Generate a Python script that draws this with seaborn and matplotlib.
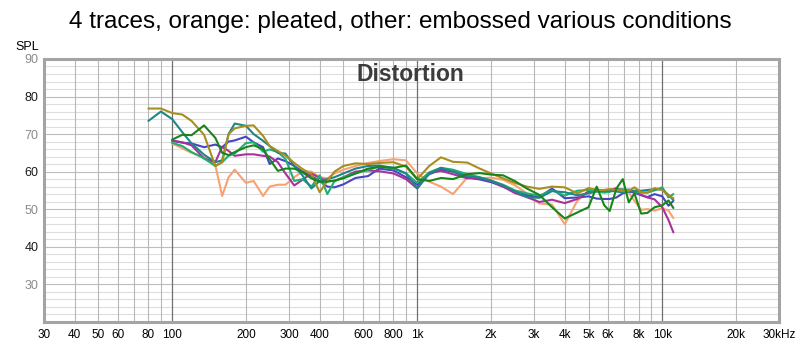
import numpy as np
import pandas as pd
import matplotlib
matplotlib.use("Agg")
import matplotlib.pyplot as plt
import seaborn as sns

sns.set_theme(style="white")
plt.rcParams['font.family'] = ['Liberation Sans', 'DejaVu Sans']

# ---------------- data ----------------
freq = [80, 90, 100, 110, 120, 135, 150, 160, 170, 180, 200, 215, 235, 250, 270,
        290, 315, 340, 370, 400, 430, 460, 500, 560, 630, 700, 800, 900, 1000, 1120,
        1250, 1400, 1600, 1800, 2000, 2240, 2500, 2800, 3150, 3550, 4000, 4500, 5000,
        5400, 5800, 6100, 6500, 6900, 7300, 7700, 8200, 8700, 9300, 10000, 10600, 11100]

nan = np.nan
olive = [76.8, 76.8, 75.6, 75.2, 73.5, 69.8, 61.5, 62.5, 70.0, 71.5,
         72.2, 72.3, 69.5, 66.8, 65.5, 64.3, 62.3, 60.7, 59.3, 54.5,
         57.5, 60.0, 61.5, 62.2, 62.0, 62.3, 62.5, 61.3, 58.0, 61.5,
         63.8, 62.6, 62.4, 60.8, 59.5, 58.2, 57.0, 56.0, 55.4, 56.0,
         55.8, 54.2, 55.6, 55.1, 55.1, 55.3, 55.1, 54.9, 54.9, 55.8,
         54.5, 54.4, 55.6, 55.1, 53.6, 52.9]
teal = [73.5, 76.0, 74.0, 70.5, 67.5, 64.5, 62.5, 63.0, 70.0, 72.8,
        72.2, 70.0, 68.2, 66.8, 65.0, 64.8, 61.5, 59.0, 55.5, 57.5,
        58.0, 58.5, 59.5, 60.8, 61.5, 61.6, 61.0, 59.5, 55.5, 59.5,
        61.0, 60.0, 58.8, 58.4, 57.6, 56.3, 54.8, 53.2, 53.0, 54.8,
        54.5, 53.7, 54.2, 54.7, 54.9, 54.9, 54.7, 54.4, 54.7, 54.9,
        54.9, 55.1, 55.3, 55.2, 53.8, 52.4]
darkgreen = [nan, nan, 68.5, 69.8, 69.7, 72.3, 69.0, 65.0, 64.4, 65.2,
             66.5, 67.0, 66.0, 63.3, 60.2, 60.8, 60.8, 59.8, 58.2, 57.3,
             57.3, 57.6, 58.2, 59.5, 60.8, 61.3, 61.0, 61.6, 58.0, 57.5,
             58.3, 58.0, 59.3, 59.6, 59.2, 59.0, 57.5, 55.5, 53.8, 50.5,
             47.5, 49.1, 50.5, 56.0, 51.0, 49.5, 55.5, 58.0, 51.8, 54.2,
             48.8, 49.0, 50.5, 51.0, 52.3, 50.3]
blue = [nan, nan, 68.2, 67.7, 67.5, 66.5, 67.2, 66.5, 68.0, 68.3,
        69.3, 67.8, 66.5, 62.0, 63.5, 62.8, 61.5, 60.0, 58.8, 57.5,
        56.0, 55.8, 56.6, 58.3, 58.8, 60.8, 60.3, 58.5, 56.5, 59.3,
        60.5, 60.0, 58.4, 57.9, 57.2, 56.0, 54.8, 53.7, 53.2, 55.5,
        52.9, 53.1, 53.4, 52.8, 52.7, 52.7, 53.1, 54.2, 54.7, 54.4,
        53.7, 53.2, 54.0, 53.4, 50.9, 52.2]
magenta = [nan, nan, 68.3, 67.8, 67.0, 63.5, 62.5, 66.6, 65.5, 64.2,
           64.6, 64.6, 64.2, 64.0, 62.5, 59.5, 56.3, 57.8, 59.5, 58.3,
           57.5, 57.5, 58.5, 60.0, 60.3, 60.1, 59.5, 58.0, 55.5, 59.7,
           60.2, 59.3, 58.2, 58.3, 57.5, 56.0, 54.3, 53.2, 51.9, 52.5,
           51.6, 52.7, 54.7, 55.3, 54.6, 54.9, 55.6, 54.9, 55.2, 54.7,
           53.8, 53.1, 52.6, 50.5, 47.1, 43.8]
seagreen = [nan, nan, 67.7, 66.8, 65.2, 63.5, 61.5, 62.5, 64.2, 64.8,
            67.6, 67.8, 65.3, 65.9, 65.2, 63.4, 57.5, 58.0, 56.0, 59.0,
            54.0, 57.5, 58.5, 59.5, 60.5, 61.3, 60.8, 59.5, 57.0, 59.8,
            61.0, 60.5, 59.3, 58.5, 57.6, 56.5, 55.0, 54.2, 53.6, 55.0,
            53.6, 54.9, 55.1, 54.7, 54.4, 54.6, 55.1, 55.3, 55.1, 54.7,
            54.4, 54.4, 55.0, 55.8, 53.1, 54.0]
orange = [nan, nan, 67.5, 66.2, 65.0, 63.8, 61.8, 53.5, 58.5, 60.5,
          57.0, 57.5, 53.5, 56.0, 56.5, 56.5, 58.5, 60.0, 60.0, 58.5,
          58.2, 59.5, 60.5, 61.5, 62.3, 62.8, 63.3, 63.0, 59.5, 57.3,
          56.0, 54.0, 58.4, 58.2, 58.4, 57.8, 56.4, 54.2, 51.5, 51.2,
          46.0, 52.2, 54.7, 54.9, 55.1, 55.3, 55.3, 55.3, 54.4, 52.2,
          49.8, 50.0, 49.6, 50.2, 49.6, 47.6]

traces = {
    "pleated": orange,
    "blue": blue,
    "magenta": magenta,
    "seagreen": seagreen,
    "teal": teal,
    "olive": olive,
    "darkgreen": darkgreen,
}
palette = {
    "pleated": "#f7a274",
    "blue": "#4646c2",
    "magenta": "#a8329a",
    "seagreen": "#1fb072",
    "teal": "#1f8686",
    "olive": "#a88e1e",
    "darkgreen": "#17861a",
}

xtick_vals = [30, 40, 50, 60, 80, 100, 200, 300, 400, 600, 800, 1000, 2000, 3000,
              4000, 5000, 6000, 8000, 10000, 20000, 30000]
xtick_labels = ["30", "40", "50", "60", "80", "100", "200", "300", "400", "600", "800",
                "1k", "2k", "3k", "4k", "5k", "6k", "8k", "10k", "20k", "30kHz"]
ytick_vals = [30, 40, 50, 60, 70, 80, 90]

title = "4 traces, orange: pleated, other: embossed various conditions"

# ---------------- figure ----------------
frames = []
for name, vals in traces.items():
    frames.append(pd.DataFrame({"freq": freq, "spl": vals, "trace": name}))
df = pd.concat(frames, ignore_index=True).dropna()

fig = plt.figure(figsize=(8, 3.46), dpi=100)
ax = fig.add_axes([0.055, 0.0702, 0.919, 0.7593])
ax.set_xscale("log")
ax.set_xlim(30, 30000)
ax.set_ylim(20, 90)

# grid
for dec in [10, 100, 1000, 10000]:
    for m in range(1, 10):
        f = dec * m
        if f < 30 or f > 30000:
            continue
        if m == 1:
            ax.axvline(f, color="#707070", lw=0.9, zorder=1)
        else:
            ax.axvline(f, color="#b8b8b8", lw=0.8, zorder=1)
for v in range(20, 91, 2):
    if v % 10 == 0:
        ax.axhline(v, color="#bdbdbd", lw=0.8, zorder=0.9)
    else:
        ax.axhline(v, color="#dedede", lw=0.8, zorder=0.8)

sns.lineplot(data=df, x="freq", y="spl", hue="trace", palette=palette,
             hue_order=list(traces.keys()), estimator=None, sort=False,
             legend=False, linewidth=1.5, ax=ax, zorder=3)

ax.set_xlabel("")
ax.set_ylabel("")
ax.set_xticks(xtick_vals)
ax.set_xticklabels(xtick_labels)
ax.xaxis.set_minor_locator(matplotlib.ticker.NullLocator())
ax.set_yticks(ytick_vals)
ax.set_yticklabels([str(v) for v in ytick_vals])
ax.tick_params(axis="x", length=0, pad=5, labelsize=8.5, colors="black")
ax.tick_params(axis="y", length=0, pad=4, labelsize=9)
for lab, v in zip(ax.get_yticklabels(), ytick_vals):
    lab.set_color("#1a1a1a" if v in (40, 60, 80) else "#8a8a8a")

for s in ax.spines.values():
    s.set_visible(True)
    s.set_color("#a4a4a4")
    s.set_linewidth(2.2)
ax.set_facecolor("white")

ax.text(0.499, 0.94, "Distortion", transform=ax.transAxes, ha="center", va="center",
        fontsize=16.5, fontweight="bold", color="#3c3c3c", zorder=5)
fig.text(15 / 800, 1 - 47 / 346, "SPL", ha="left", va="center", fontsize=9, color="black")
fig.text(0.5, 1 - 22 / 346, title, ha="center", va="center", fontsize=17.5, color="black")

fig.savefig("out.png", dpi=100)
